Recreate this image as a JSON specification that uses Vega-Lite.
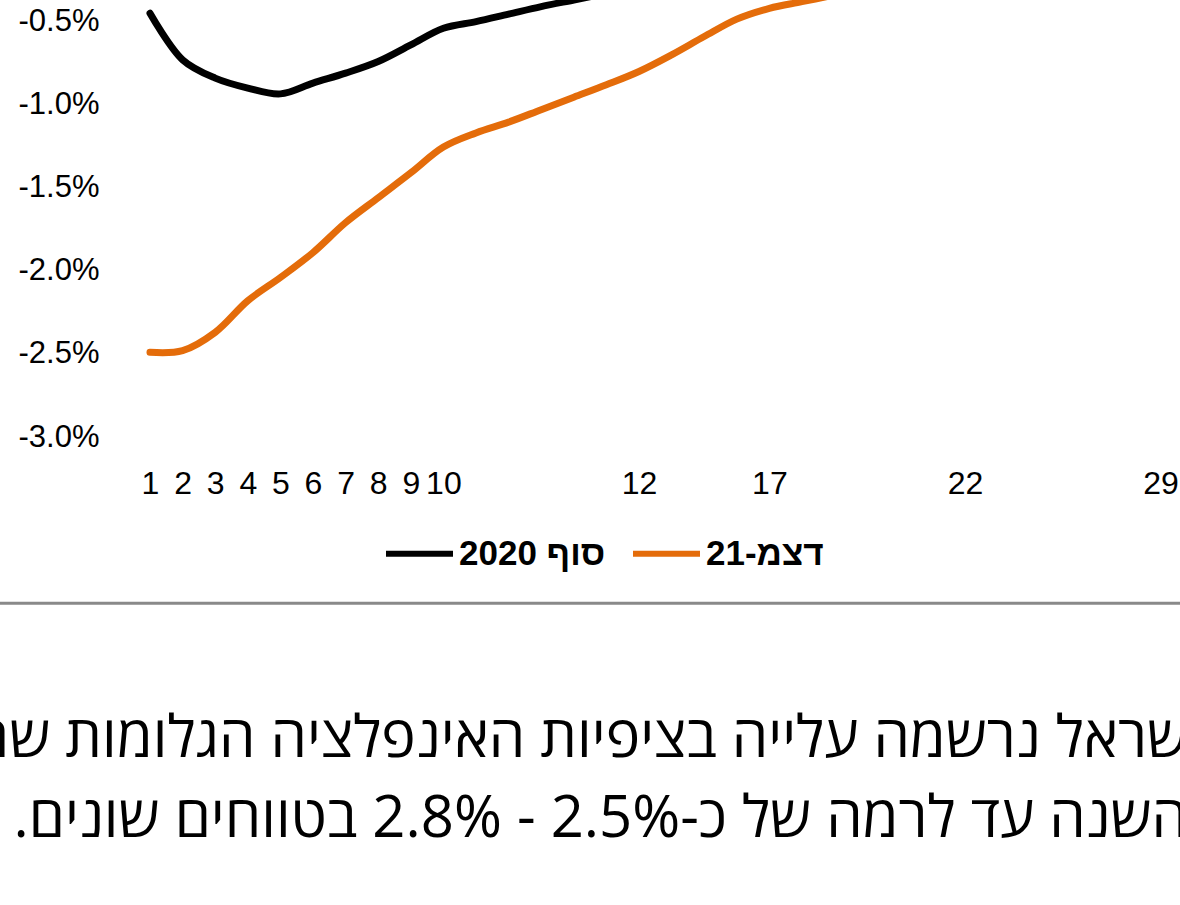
{
  "$schema": "https://vega.github.io/schema/vega-lite/v6.json",
  "width": 1180,
  "height": 437,
  "autosize": {"type": "none"},
  "padding": {"left": 0, "top": 0, "right": 0, "bottom": 468},
  "background": "white",
  "config": {"view": {"stroke": null}},
  "title": {
    "text": ["שראל נרשמה עלייה בציפיות האינפלציה הגלומות שה", "השנה עד לרמה של כ-2.5% - 2.8% בטווחים שונים.\u200f"],
    "orient": "bottom",
    "anchor": "end",
    "align": "right",
    "frame": "group",
    "font": "Open Sans",
    "fontSize": 58,
    "fontWeight": "normal",
    "color": "#000000",
    "lineHeight": 80,
    "offset": 106,
    "dx": 8
  },
  "datasets": {
    "curves": [
      {"k": 1, "series": "סוף 2020", "v": -0.45},
      {"k": 2, "series": "סוף 2020", "v": -0.73},
      {"k": 3, "series": "סוף 2020", "v": -0.84},
      {"k": 4, "series": "סוף 2020", "v": -0.9},
      {"k": 5, "series": "סוף 2020", "v": -0.935},
      {"k": 6, "series": "סוף 2020", "v": -0.87},
      {"k": 7, "series": "סוף 2020", "v": -0.81},
      {"k": 8, "series": "סוף 2020", "v": -0.74},
      {"k": 9, "series": "סוף 2020", "v": -0.64},
      {"k": 10, "series": "סוף 2020", "v": -0.54},
      {"k": 11, "series": "סוף 2020", "v": -0.5},
      {"k": 12, "series": "סוף 2020", "v": -0.455},
      {"k": 13, "series": "סוף 2020", "v": -0.41},
      {"k": 14, "series": "סוף 2020", "v": -0.37},
      {"k": 15, "series": "סוף 2020", "v": -0.33},
      {"k": 16, "series": "סוף 2020", "v": -0.29},
      {"k": 1, "series": "דצמ-21", "v": -2.49},
      {"k": 2, "series": "דצמ-21", "v": -2.48},
      {"k": 3, "series": "דצמ-21", "v": -2.37},
      {"k": 4, "series": "דצמ-21", "v": -2.18},
      {"k": 5, "series": "דצמ-21", "v": -2.04},
      {"k": 6, "series": "דצמ-21", "v": -1.89},
      {"k": 7, "series": "דצמ-21", "v": -1.71},
      {"k": 8, "series": "דצמ-21", "v": -1.56},
      {"k": 9, "series": "דצמ-21", "v": -1.41},
      {"k": 10, "series": "דצמ-21", "v": -1.255},
      {"k": 11, "series": "דצמ-21", "v": -1.17},
      {"k": 12, "series": "דצמ-21", "v": -1.105},
      {"k": 13, "series": "דצמ-21", "v": -1.03},
      {"k": 14, "series": "דצמ-21", "v": -0.955},
      {"k": 15, "series": "דצמ-21", "v": -0.88},
      {"k": 16, "series": "דצמ-21", "v": -0.8},
      {"k": 17, "series": "דצמ-21", "v": -0.7},
      {"k": 18, "series": "דצמ-21", "v": -0.59},
      {"k": 19, "series": "דצמ-21", "v": -0.485},
      {"k": 20, "series": "דצמ-21", "v": -0.42},
      {"k": 21, "series": "דצמ-21", "v": -0.38},
      {"k": 22, "series": "דצמ-21", "v": -0.34}
    ],
    "separator": [{"v": -4.0}]
  },
  "layer": [
    {
      "data": {"name": "curves"},
      "mark": {"type": "line", "clip": true, "strokeWidth": 7, "interpolate": "catmull-rom", "strokeCap": "round"},
      "encoding": {
        "x": {
          "field": "k",
          "type": "quantitative",
          "scale": {"domain": [-3.601, 32.595], "nice": false, "zero": false},
          "axis": {
            "values": [1, 2, 3, 4, 5, 6, 7, 8, 9, 10, 16, 20, 26, 32],
            "labelExpr": "datum.value == 16 ? '12' : datum.value == 20 ? '17' : datum.value == 26 ? '22' : datum.value == 32 ? '29' : '' + datum.value",
            "title": null,
            "domain": false,
            "ticks": false,
            "tickSize": 0,
            "grid": false,
            "labelPadding": 31,
            "labelFont": "Liberation Sans",
            "labelFontSize": 32,
            "labelColor": "#000000",
            "labelOverlap": false,
            "labelFlush": false,
            "labelBound": false
          }
        },
        "y": {
          "field": "v",
          "type": "quantitative",
          "scale": {"domain": [-3.0, -0.37], "nice": false, "zero": false},
          "axis": {
            "values": [-3.0, -2.5, -2.0, -1.5, -1.0, -0.5],
            "labelExpr": "(datum.value < 0 ? '-' : '') + format(abs(datum.value), '.1f') + '%'",
            "title": null,
            "domain": false,
            "ticks": false,
            "tickSize": 0,
            "grid": false,
            "offset": -101,
            "labelPadding": 2,
            "labelFont": "Liberation Sans",
            "labelFontSize": 31,
            "labelColor": "#000000",
            "labelOverlap": false,
            "labelBound": false
          }
        },
        "color": {
          "field": "series",
          "type": "nominal",
          "scale": {"domain": ["סוף 2020", "דצמ-21"], "range": ["#000000", "#E46C0A"]},
          "legend": {
            "title": null,
            "orient": "none",
            "direction": "horizontal",
            "legendX": 383,
            "legendY": 517,
            "padding": 0,
            "symbolType": "stroke",
            "symbolSize": 4489,
            "symbolStrokeWidth": 6,
            "labelFont": "Liberation Sans",
            "labelFontSize": 35,
            "labelFontWeight": "bold",
            "labelColor": "#000000",
            "labelOffset": 3,
            "columnPadding": 15,
            "labelLimit": 400
          }
        }
      }
    },
    {
      "data": {"name": "separator"},
      "mark": {"type": "rule", "color": "#898989", "strokeWidth": 3},
      "encoding": {"y": {"field": "v", "type": "quantitative"}}
    }
  ]
}
